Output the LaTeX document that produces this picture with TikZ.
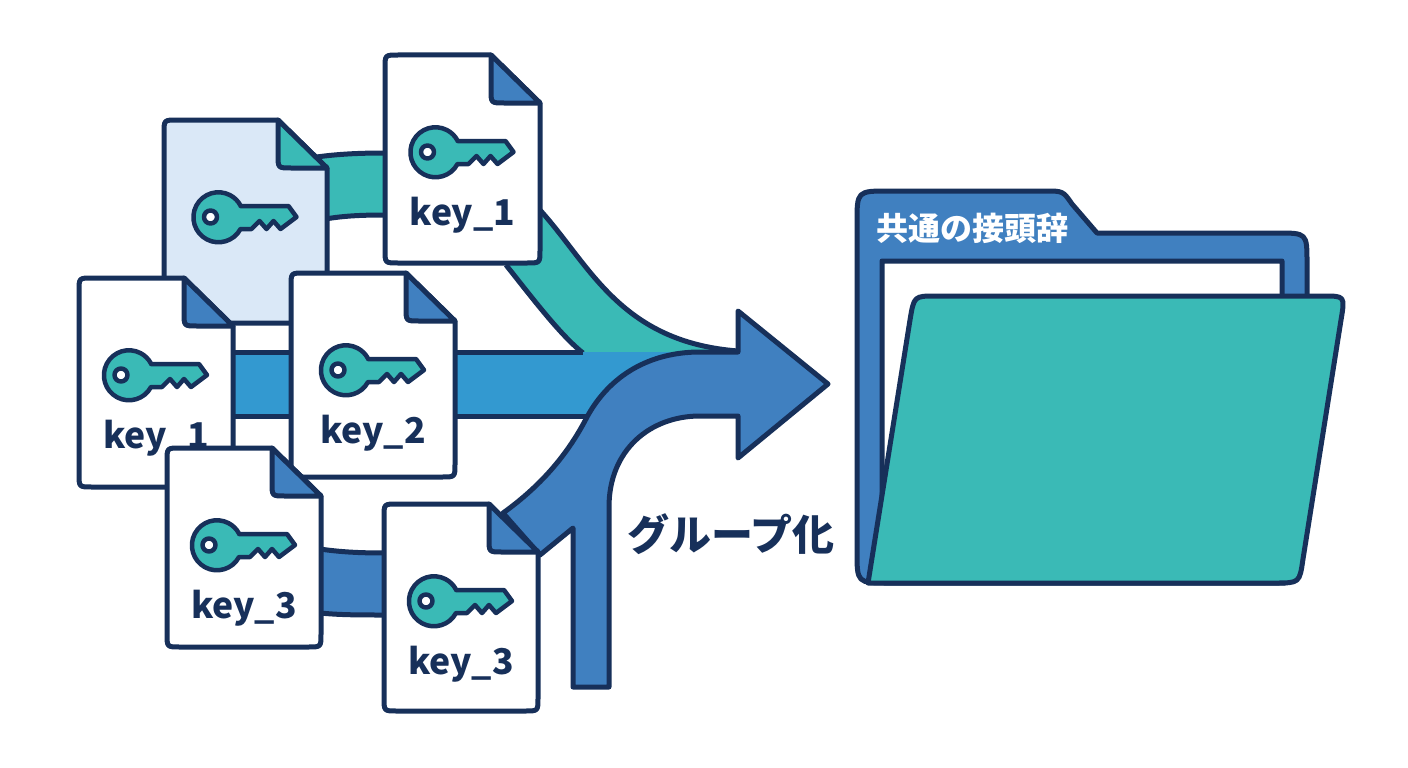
\documentclass[tikz,border=0pt]{standalone}
\usepackage{fontspec}
\usepackage{tikz}
\usetikzlibrary{positioning}
\newfontfamily\cjkfont{Noto Sans CJK JP}
\definecolor{navy}{HTML}{17305A}
\definecolor{tealC}{HTML}{3ABAB6}
\definecolor{blueC}{HTML}{4080C0}
\definecolor{midC}{HTML}{3399D0}
\definecolor{paleC}{HTML}{DAE8F7}
\tikzset{
  edgeline/.style={ draw=navy, line width=5pt, line join=round }
}
\tikzset{
  keylabel/.style={ text=navy, font=\cjkfont\bfseries\fontsize{35.5}{40}\selectfont, anchor=base, inner sep=0pt }
}
\tikzset{
  pics/keycard/.style n args={5}{code={
      \path[edgeline, fill=#3] (#1-49,0) -- (#1,48) -- (#1,#2-13) .. controls (#1,#2) .. (#1-13,#2)
        -- (13,#2) .. controls (0,#2) .. (0,#2-13) -- (0,13) .. controls (0,0) .. (13,0) -- cycle;
      \path[edgeline, fill=#4] (#1-49,0) -- (#1,48) -- (#1-36,48) .. controls (#1-49,48) .. (#1-49,35) -- cycle;
      \begin{scope}[shift={(#1/2-28,97)}]
        \path[edgeline, fill=tealC, line width=4.5pt] (23,-11) -- (71,-11) -- (79,0) -- (63,12) -- (56,4) -- (49,12) -- (42,4) -- (34,12) -- (23,12)
          arc[start angle=28, end angle=332, radius=25] -- cycle;
        \path[edgeline, fill=white, line width=4.5pt] (-7,0) circle[radius=6.5pt];
      \end{scope}
      \node[keylabel] (-label) at (#1/2,170) {#5};
  }}
}
\begin{document}
\begin{tikzpicture}[x=1pt, y=-1pt]
  \useasboundingbox[fill=white] (0,0) rectangle (1408,768);

  % ribbons
  \fill[tealC] (310,158) .. controls (335,154) and (360,153) .. (385,153) -- (540,210)
    .. controls (590,265) and (620,342) .. (738,351) -- (583,353)
    .. controls (560,335) and (530,295) .. (506,265) -- (385,215)
    .. controls (360,215) and (340,216) .. (320,220) -- cycle;
  \path[edgeline] (310,158) .. controls (335,154) and (360,153) .. (385,153);
  \path[edgeline] (320,220) .. controls (340,216) and (360,215) .. (385,215);
  \path[edgeline] (540,210) .. controls (590,265) and (620,342) .. (738,351);
  \path[edgeline] (583,353) .. controls (560,335) and (530,295) .. (506,265);
  \fill[midC] (230,352) rectangle (700,416);
  \path[edgeline] (230,352) -- (583,352);
  \path[edgeline] (230,416) -- (590,416);
  \fill[blueC] (320,549) .. controls (340,552) and (360,553) .. (385,553) -- (385,615) .. controls (360,615) and (340,615) .. (320,613) -- cycle;
  \path[edgeline] (320,549) .. controls (340,552) and (360,553) .. (385,553);
  \path[edgeline] (320,613) .. controls (340,615) and (360,615) .. (385,615);

  % arrow
  \path[edgeline, fill=blueC] (609,687) -- (609,507) .. controls (609,450) and (650,416) .. (700,416) -- (738,416)
    -- (738,458) -- (828,384) -- (738,311) -- (738,352) -- (700,352)
    .. controls (650,352) and (610,375) .. (587,417) .. controls (565,460) and (535,490) .. (503,513)
    -- (540,555) -- (573,528) -- (573,687) -- cycle;
  \node[text=navy, font=\cjkfont\bfseries\fontsize{42}{44}\selectfont, inner sep=0pt] (grp) at (731,534) {グループ化};

  % cards
  \pic (cardP) at (164,120) {keycard={163}{203}{paleC}{tealC}{}};
  \pic (cardA) at (385,55) {keycard={155}{208}{white}{blueC}{key\_1}};
  \pic (cardB) at (79,278) {keycard={154}{209}{white}{blueC}{key\_1}};
  \pic (cardC) at (291,273) {keycard={164}{204}{white}{blueC}{key\_2}};
  \pic (cardD) at (167,448) {keycard={154}{199}{white}{blueC}{key\_3}};
  \pic (cardE) at (384,504) {keycard={154}{207}{white}{blueC}{key\_3}};

  % folder
  \path[edgeline, fill=blueC] (857,400) -- (857,223) .. controls (857,191) .. (889,191) -- (1045,191) .. controls (1063,191) .. (1072,204)
    -- (1097,233) -- (1277,233) .. controls (1307,233) .. (1307,263) -- (1307,310) -- (1285,583) -- (889,583) .. controls (857,583) .. (857,551) -- cycle;
  \path[edgeline, fill=white] (882,261) -- (1282,261) -- (1282,320) -- (882,500) -- cycle;
  \node[text=white, font=\cjkfont\bfseries\fontsize{32}{34}\selectfont, inner sep=0pt, anchor=west] (prefix) at (876,228) {共通の接頭辞};
  \path[edgeline, fill=tealC] (936,296) -- (1323,296) .. controls (1345,296) .. (1341,320) -- (1303,559) .. controls (1299.5,583) .. (1275,583)
    -- (868,583) -- (910,320) .. controls (914,296) .. (936,296) -- cycle;
\end{tikzpicture}
\end{document}
